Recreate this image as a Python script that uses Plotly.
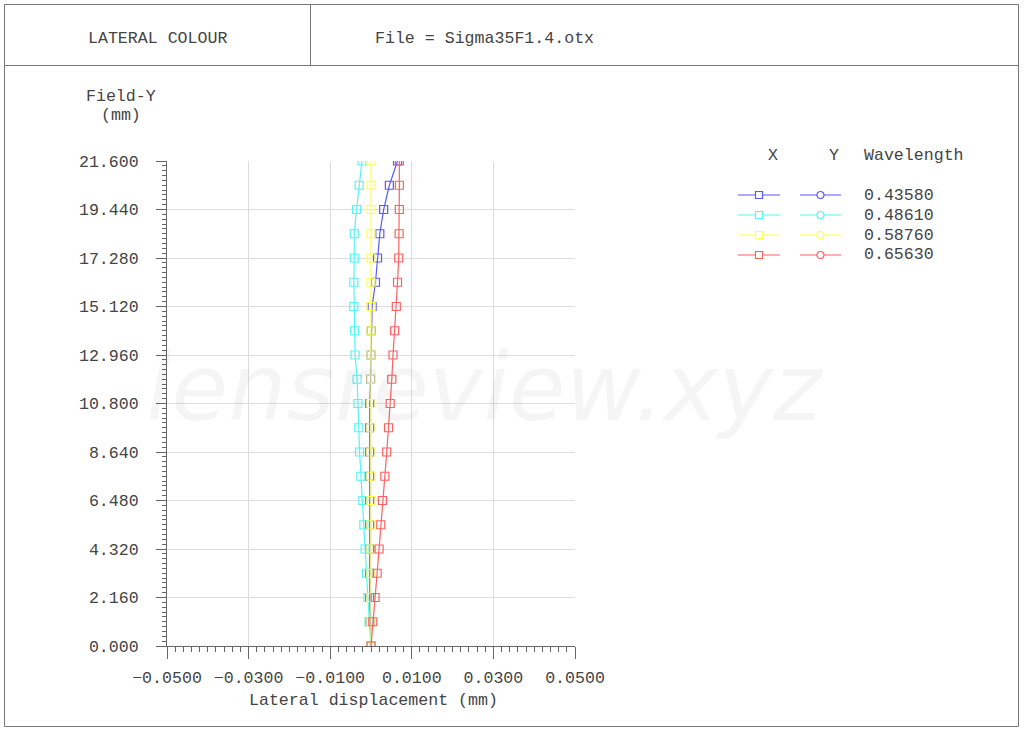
import plotly.graph_objects as go

# ---- data ----
field_y = [0.00, 1.08, 2.16, 3.24, 4.32, 5.40, 6.48, 7.56, 8.64, 9.72, 10.80,
           11.88, 12.96, 14.04, 15.12, 16.20, 17.28, 18.36, 19.44, 20.52, 21.60]
wavelengths = ["0.43580", "0.48610", "0.58760", "0.65630"]
lat_blue = [0.0, -0.0002, -0.0003, -0.0003, -0.0003, -0.0003, -0.0003, -0.0003, -0.0003, -0.0003, -0.0003,
            -0.0001, 0.0000, 0.00005, 0.00027, 0.0011, 0.0016, 0.00216, 0.0031, 0.0045, 0.0065]
lat_cyan = [0.0, -0.00047, -0.00078, -0.0011, -0.00145, -0.00176, -0.0020, -0.0025, -0.0028, -0.0030, -0.0032,
            -0.0034, -0.0039, -0.0040, -0.0042, -0.0042, -0.0041, -0.0041, -0.00355, -0.0029, -0.0022]
lat_yellow = [0.0] * 21
lat_red = [0.0, 0.00044, 0.0010, 0.0015, 0.00198, 0.0024, 0.0028, 0.0034, 0.00386, 0.0043, 0.0047,
           0.0051, 0.0054, 0.0058, 0.0062, 0.0065, 0.0068, 0.0069, 0.00695, 0.00695, 0.00695]
x_ticks = [-0.05, -0.03, -0.01, 0.01, 0.03, 0.05]
y_ticks = [round(2.16 * i, 2) for i in range(11)]

colors = ["#5a5aff", "#55f5f5", "#ffff50", "#ff6060"]
series = [lat_blue, lat_cyan, lat_yellow, lat_red]

W, H = 1024, 731
def px(x):
    return x / W
def py(y):
    return 1 - y / H

FONT = "Liberation Mono, Courier New, monospace"
FS = 16.6
TXT = "#444444"

fig = go.Figure()
for vals, c in zip(series, colors):
    fig.add_trace(go.Scatter(
        x=vals, y=field_y, mode="lines+markers",
        line=dict(color=c, width=1.2),
        marker=dict(symbol="square-open", size=8, color=c, line=dict(width=1.2, color=c)),
        showlegend=False, hoverinfo="skip"))

fig.update_layout(
    template="none",
    width=W, height=H, autosize=False,
    margin=dict(l=0, r=0, t=0, b=0, pad=0),
    paper_bgcolor="white", plot_bgcolor="white",
    showlegend=False,
    font=dict(family=FONT, size=FS, color=TXT),
    xaxis=dict(domain=[px(167), px(575)], range=[-0.05, 0.05], automargin=False,
               tickmode="array", tickvals=x_ticks,
               ticktext=["\u22120.0500", "\u22120.0300", "\u22120.0100", "0.0100", "0.0300", "0.0500"],
               ticks="outside", ticklen=12, tickcolor="#666", tickwidth=1,
               ticklabelstandoff=4,
               showline=True, linecolor="#666", linewidth=1,
               showgrid=True, gridcolor="#dddddd", gridwidth=1, zeroline=False,
               minor=dict(dtick=0.002, tick0=-0.05, ticks="outside", ticklen=5, tickcolor="#666", showgrid=False),
               tickfont=dict(family=FONT, size=FS, color=TXT)),
    yaxis=dict(domain=[py(646), py(161)], range=[0, 21.6], automargin=False,
               tickmode="array", tickvals=y_ticks,
               ticktext=[f"{v:.3f}" for v in y_ticks],
               ticks="outside", ticklen=10, tickcolor="#666", tickwidth=1,
               ticklabelstandoff=14,
               showline=True, linecolor="#666", linewidth=1,
               showgrid=True, gridcolor="#dddddd", gridwidth=1, zeroline=False,
               minor=dict(dtick=0.216, tick0=0, ticks="outside", ticklen=4, tickcolor="#666", showgrid=False),
               tickfont=dict(family=FONT, size=FS, color=TXT)),
)

shapes = []
# frame
shapes.append(dict(type="rect", xref="paper", yref="paper", x0=px(4.5), x1=px(1018.5), y0=py(726.5), y1=py(4.5),
                   line=dict(color="#777", width=1)))
shapes.append(dict(type="line", xref="paper", yref="paper", x0=px(4.5), x1=px(1018.5), y0=py(65.5), y1=py(65.5),
                   line=dict(color="#777", width=1)))
shapes.append(dict(type="line", xref="paper", yref="paper", x0=px(310.5), x1=px(310.5), y0=py(4.5), y1=py(65.5),
                   line=dict(color="#777", width=1)))

annotations = []
def text(s, x, y, xanchor="center", size=FS, **kw):
    annotations.append(dict(text=s, x=px(x), y=py(y), xref="paper", yref="paper",
                            xanchor=xanchor, yanchor="middle", showarrow=False,
                            font=dict(family=FONT, size=size, color=TXT), **kw))

# watermark
annotations.append(dict(text="lensreview.xyz", x=px(484), y=py(388), xref="paper", yref="paper",
                        showarrow=False, xanchor="center", yanchor="middle",
                        font=dict(family="DejaVu Sans", size=92, color="rgba(0,0,0,0.04)", style="italic")))

text("LATERAL COLOUR", 157, 38)
text("File = Sigma35F1.4.otx", 484, 38)
text("Field-Y", 121, 96)
text("(mm)", 121, 115)
text("Lateral displacement (mm)", 373, 700)

# legend
text("X", 773, 155)
text("Y", 834, 155)
text("Wavelength", 862, 155, xanchor="left")
rows = [195, 215, 235, 255]
for wl, c, yy in zip(wavelengths, colors, rows):
    shapes.append(dict(type="line", xref="paper", yref="paper", x0=px(738), x1=px(780), y0=py(yy), y1=py(yy),
                       line=dict(color=c, width=1.2)))
    shapes.append(dict(type="rect", xref="paper", yref="paper", x0=px(755.5), x1=px(762.5), y0=py(yy + 3.5), y1=py(yy - 3.5),
                       line=dict(color=c, width=1.2), fillcolor="white"))
    shapes.append(dict(type="line", xref="paper", yref="paper", x0=px(800), x1=px(841), y0=py(yy), y1=py(yy),
                       line=dict(color=c, width=1.2)))
    shapes.append(dict(type="circle", xref="paper", yref="paper", x0=px(817), x1=px(824), y0=py(yy + 3.5), y1=py(yy - 3.5),
                       line=dict(color=c, width=1.2), fillcolor="white"))
    text(wl, 862, yy, xanchor="left")

fig.update_layout(shapes=shapes, annotations=annotations)
fig.write_html("out.html",
               config={"displayModeBar": False},
               post_script="document.body.style.margin='0';document.body.style.padding='0';"
                           "document.body.style.overflow='hidden';")
